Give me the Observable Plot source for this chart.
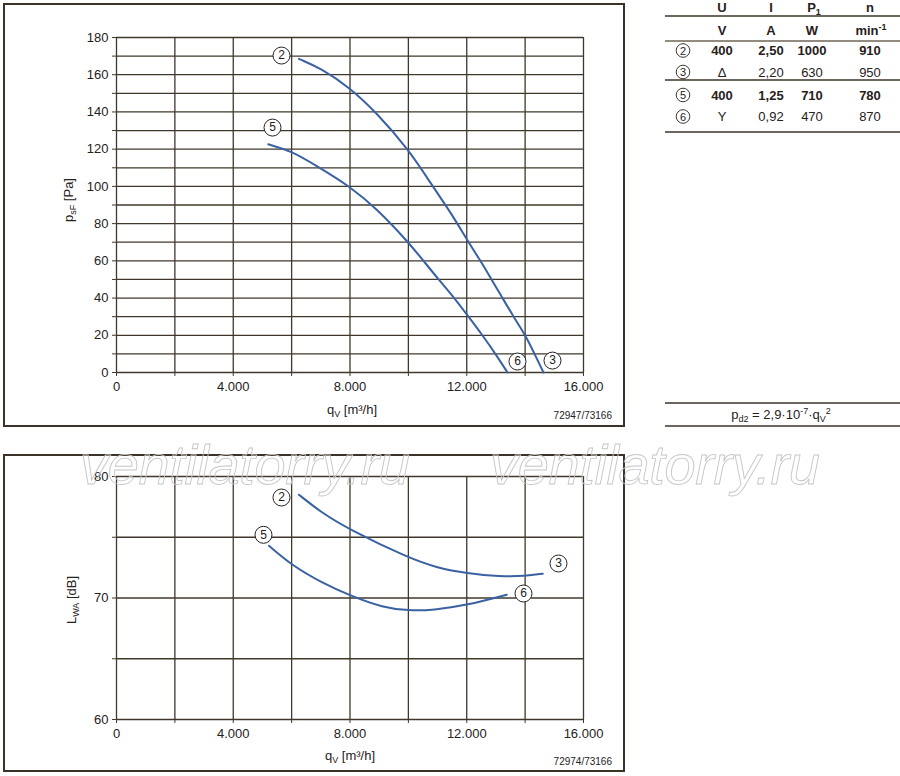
<!DOCTYPE html>
<html><head><meta charset="utf-8">
<script src="https://cdn.jsdelivr.net/npm/d3@7"></script>
<script src="https://cdn.jsdelivr.net/npm/@observablehq/plot@0.6"></script>
<style>
body{margin:0;background:#fff;font-family:"Liberation Sans",Arial,Helvetica,sans-serif;}
#page{position:relative;width:900px;height:776px;overflow:hidden;background:#fff;}
.frame{position:absolute;border:2px solid #3b3328;box-sizing:border-box;z-index:5;}
</style></head><body><div id="page"></div>
<script>
// ---------- data ----------
const flowTicks = [0,2000,4000,6000,8000,10000,12000,14000,16000];
const flowLabels = [0,4000,8000,12000,16000];
const pressureTicks = [0,10,20,30,40,50,60,70,80,90,100,110,120,130,140,150,160,170,180];
const pressureLabels = [0,20,40,60,80,100,120,140,160,180];
const soundTicks = [60,65,70,75,80];
const soundLabels = [60,70,80];

// pressure curves (flow m3/h, pressure Pa)
const curve23Flow = [6250,7000,8000,8914,10000,10857,11272,11683,12060,12471,12848,13225,13601,14013,14321,14630];
const curve23Pressure = [168.5,163.5,153,139.5,120,99.5,90,80,70,60,50,40,30,20,10,0];
const curve56Flow = [5200,6000,6857,8000,8914,10000,10518,11032,11580,12060,12540,12985,13396];
const curve56Pressure = [122.6,119,111,100,88,70,60,50,40,30,20,10,0];

// sound curves (flow m3/h, LWA dB)
const sound23Flow = [6251,7000,8000,10000,11000,12000,13143,14000,14606];
const sound23Level = [78.5,77.06,75.6,73.3,72.47,72.03,71.76,71.8,72.0];
const sound56Flow = [5223,6000,7000,8000,9143,10000,10857,12000,13371];
const sound56Level = [74.3,72.7,71.3,70.2,69.2,68.96,69.0,69.4,70.27];

// curve markers
const pressureMarkerText = ["2","5","6","3"];
const pressureMarkerFlow = [5653,5345,13738,14937];
const pressureMarkerValue = [170.3,131.6,5.9,6.4];
const soundMarkerText = ["2","5","3","6"];
const soundMarkerFlow = [5653,5036,15143,13944];
const soundMarkerValue = [78.27,75.2,72.84,70.37];

// table
const tableHeader = ["U","I","P","n"];
const tableUnits = ["V","A","W","min"];
const tableIds = ["2","3","5","6"];
const tableU = ["400","Δ","400","Y"];
const tableI = ["2,50","2,20","1,25","0,92"];
const tableP = ["1000","630","710","470"];
const tableN = ["910","950","780","870"];
const tableBold = [true,false,true,false];

// ---------- helpers ----------
const page = document.getElementById("page");
const blue = "#3a62a2";
const gridColor = "#40382b";
const textColor = "#26211b";
const fmtFlow = d => flowLabels.includes(d) ? (d === 0 ? "0" : d3.format(",")(d).replace(/,/g, ".")) : "";

function toRows(xs, ys, key) { return xs.map((x, i) => ({q: x, v: ys[i], c: key})); }

function place(el, left, topPx, z) {
  el.style.position = "absolute"; el.style.left = left + "px"; el.style.top = topPx + "px";
  if (z) el.style.zIndex = z;
  page.appendChild(el);
}
function frame(left, topPx, w, h) {
  const d = document.createElement("div"); d.className = "frame";
  d.style.left = left + "px"; d.style.top = topPx + "px"; d.style.width = w + "px"; d.style.height = h + "px";
  page.appendChild(d);
}
// parts: [text, mode] mode 0 normal, 1 sub, -1 sup
function richText(sel, x, y, parts, opts = {}) {
  const size = opts.size || 13;
  const t = sel.append("text").attr("x", x).attr("y", y)
    .attr("fill", textColor).attr("font-size", size)
    .attr("font-family", "Liberation Sans, Arial, sans-serif")
    .attr("text-anchor", opts.anchor || "middle")
    .attr("font-weight", opts.weight || "normal");
  if (opts.rotate) t.attr("transform", `rotate(${opts.rotate},${x},${y})`);
  let cur = 0;
  for (const [s, mode] of parts) {
    const target = mode === 1 ? 3 : mode === -1 ? -5 : 0;
    t.append("tspan").attr("dy", target - cur).attr("font-size", mode ? Math.round(size * 0.68) : size).text(s);
    cur = target;
  }
  return t;
}

function chart({w, h, mt, mb, yDomain, yTicks, yLabels, lines, markers}) {
  return Plot.plot({
    width: w, height: h, marginLeft: 116, marginRight: w - 583, marginTop: mt, marginBottom: mb,
    x: {domain: [0, 16000]},
    y: {domain: yDomain},
    style: {fontFamily: "Liberation Sans, Arial, sans-serif", fontSize: "13px", color: textColor, background: "transparent", overflow: "visible"},
    marks: [
      Plot.ruleY(yTicks, {stroke: gridColor, strokeWidth: 1.3}),
      Plot.ruleX(flowTicks, {stroke: gridColor, strokeWidth: 1.3}),
      Plot.axisY({ticks: yTicks, tickFormat: d => yLabels.includes(d) ? String(d) : "", tickSize: 4, tickPadding: 4, label: null, stroke: gridColor}),
      Plot.axisX({ticks: flowTicks, tickFormat: fmtFlow, tickSize: 4, tickPadding: 5, label: null, stroke: gridColor}),
      Plot.line(lines, {x: "q", y: "v", z: "c", stroke: blue, strokeWidth: 2, curve: "basis"}),
      Plot.dot(markers, {x: "q", y: "v", r: 8.5, fill: "white", stroke: "#222", strokeWidth: 1}),
      Plot.text(markers, {x: "q", y: "v", text: "c", fontSize: 12, fill: "#222"})
    ]
  });
}

// ---------- top chart ----------
const pLines = [...toRows(curve23Flow, curve23Pressure, "23"), ...toRows(curve56Flow, curve56Pressure, "56")];
const pMarkers = pressureMarkerFlow.map((q, i) => ({q, v: pressureMarkerValue[i], c: pressureMarkerText[i]}));
const pressureChart = chart({w: 640, h: 430, mt: 37, mb: 58, yDomain: [0, 180], yTicks: pressureTicks, yLabels: pressureLabels, lines: pLines, markers: pMarkers});
place(pressureChart, 0, 0, 2);
{
  const s = d3.select(pressureChart);
  richText(s, 73, 200, [["p", 0], ["sF", 1], [" [Pa]", 0]], {rotate: -90});
  richText(s, 352, 414, [["q", 0], ["V", 1], [" [m³/h]", 0]]);
  richText(s, 612, 419, [["72947/73166", 0]], {size: 10, anchor: "end"});
}
frame(3, 3, 622, 424);

// ---------- bottom chart ----------
const sLines = [...toRows(sound23Flow, sound23Level, "23"), ...toRows(sound56Flow, sound56Level, "56")];
const sMarkers = soundMarkerFlow.map((q, i) => ({q, v: soundMarkerValue[i], c: soundMarkerText[i]}));
const soundChart = chart({w: 640, h: 336, mt: 36, mb: 57, yDomain: [60, 80], yTicks: soundTicks, yLabels: soundLabels, lines: sLines, markers: sMarkers});
place(soundChart, 0, 440, 2);
{
  const s = d3.select(soundChart);
  richText(s, 76, 160, [["L", 0], ["WA", 1], [" [dB]", 0]], {rotate: -90});
  richText(s, 350, 320, [["q", 0], ["V", 1], [" [m³/h]", 0]]);
  richText(s, 612, 325, [["72974/73166", 0]], {size: 10, anchor: "end"});
}
frame(3, 454, 622, 318);

// ---------- table ----------
const tsvg = d3.create("svg").attr("width", 240).attr("height", 440);
const colX = [62, 111, 152, 210]; // relative to table left (660)
const hr = (y, c) => tsvg.append("line").attr("x1", 5).attr("x2", 240).attr("y1", y).attr("y2", y).attr("stroke", c).attr("stroke-width", 1.4);
hr(16, "#3b3328"); hr(41, "#6e6555"); hr(80, "#3b3328"); hr(132, "#3b3328");
tableHeader.forEach((h, i) => {
  const parts = i === 2 ? [[h, 0], ["1", 1]] : [[h, 0]];
  richText(tsvg, colX[i] + (i === 2 ? 2 : 0), 12, parts, {weight: "bold"});
});
tableUnits.forEach((u, i) => {
  const parts = i === 3 ? [[u, 0], ["-1", -1]] : [[u, 0]];
  richText(tsvg, colX[i] + (i === 3 ? 1 : 0), 35, parts, {weight: "bold"});
});
const rowY = [55, 76.5, 99.5, 121];
tableIds.forEach((id, r) => {
  tsvg.append("circle").attr("cx", 23).attr("cy", rowY[r] - 4.5).attr("r", 6.8)
    .attr("fill", "none").attr("stroke", textColor).attr("stroke-width", 0.9);
  richText(tsvg, 23, rowY[r] - 0.5, [[id, 0]], {size: 11});
  const w = tableBold[r] ? "bold" : "normal";
  [tableU[r], tableI[r], tableP[r], tableN[r]].forEach((v, i) => richText(tsvg, colX[i], rowY[r], [[v, 0]], {weight: w}));
});
// formula box
hr(403, "#3b3328"); hr(426, "#3b3328");
richText(tsvg, 121, 419, [["p", 0], ["d2", 1], [" = 2,9·10", 0], ["-7", -1], ["·q", 0], ["V", 1], ["2", -1]]);
place(tsvg.node(), 660, 0, 3);

// ---------- watermark ----------
const wm = d3.create("svg").attr("width", 900).attr("height", 776).style("pointer-events", "none");
[80, 490].forEach(x => {
  wm.append("text").attr("x", x).attr("y", 484).attr("font-size", 56).attr("font-style", "italic")
    .attr("font-family", "Liberation Sans, Arial, sans-serif").attr("textLength", 330)
    .attr("fill", "none").attr("stroke", "#c6c6c6").attr("stroke-width", 0.9).text("ventilatorry.ru");
});
place(wm.node(), 0, 0, 10);
</script></body></html>
